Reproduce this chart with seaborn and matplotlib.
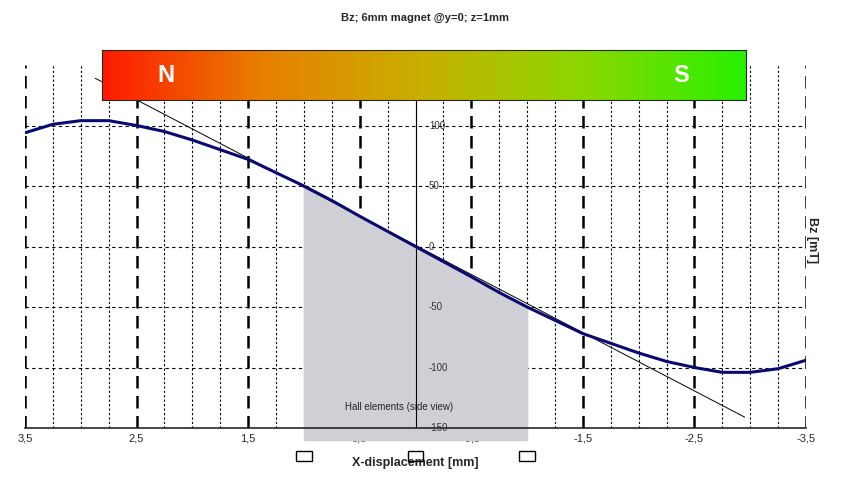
import numpy as np
import pandas as pd
import seaborn as sns
import matplotlib.pyplot as plt
from matplotlib.colors import LinearSegmentedColormap
from matplotlib.patches import Rectangle

# Bz curve (mT vs x-displacement mm)
x_pos = [3.5, 3.25, 3.0, 2.75, 2.5, 2.25, 2.0, 1.75, 1.5, 1.25, 1.0, 0.75, 0.5, 0.25, 0.0]
bz_pos = [94, 101, 104, 104, 100, 95, 88, 80, 72, 61, 50, 38, 25, 12.5, 0]
x_vals = x_pos + [-v for v in x_pos[-2::-1]]
bz_vals = bz_pos + [-v for v in bz_pos[-2::-1]]

tangent_x = [2.87, -2.95]
tangent_y = [139, -141]

hall_x = [1.0, 0.0, -1.0]
tick_vals = [3.5, 2.5, 1.5, 0.5, -0.5, -1.5, -2.5, -3.5]
tick_labels = ['3,5', '2,5', '1,5', '0,5', '-0,5', '-1,5', '-2,5', '-3,5']
y_ticks = [100, 50, 0, -50, -100, -150]

df = pd.DataFrame({'x': x_vals, 'bz': bz_vals})

sns.set_style('white')
plt.rcParams['font.family'] = ['Liberation Sans', 'DejaVu Sans']

fig = plt.figure(figsize=(8.5, 4.95), dpi=100)
ax = fig.add_axes([25/850, 1 - 428/495, 781/850, 363/495])
ax.set_xlim(3.5, -3.5)
ax.set_ylim(-150, 150)

# grid
for gx in np.arange(3.5, -3.51, -0.25):
    major = abs((gx - 0.5) % 1.0) < 1e-6
    ax.axvline(gx, color='black', lw=1.8 if major else 0.8,
               ls=(0, (5, 3)) if major else (0, (2, 2)), zorder=1)
for gy in [-100, -50, 0, 50, 100]:
    ax.axhline(gy, color='black', lw=0.8, ls=(0, (3, 3)), zorder=1)

# shaded region (Hall elements)
gx = np.array(df['x'])
gy = np.array(df['bz'])
m = (gx <= 1.0) & (gx >= -1.0)
ax.fill_between(gx[m], gy[m], -160, color='#d0cfd6', zorder=2, clip_on=False)
ax.text(0.15, -135, 'Hall elements (side view)', fontsize=7, ha='center', zorder=3)

ax.plot(tangent_x, tangent_y, color='black', lw=0.7, zorder=3)
sns.lineplot(data=df, x='x', y='bz', ax=ax, color='#0a0a6e', lw=2.2, zorder=4)

# y axis at x=0
ax.plot([0, 0], [-150, 120], color='black', lw=0.8, zorder=3)
for yt in y_ticks:
    ax.text(-0.12, yt, str(yt), fontsize=7, va='center', ha='left', color='#333333', zorder=5)

ax.set_xticks(tick_vals)
ax.set_xticklabels(tick_labels, fontsize=8)
ax.set_yticks([])
ax.tick_params(axis='x', length=0, pad=4)
ax.set_xlabel('X-displacement [mm]', fontsize=9, fontweight='bold', labelpad=10)
ax.set_ylabel('')
for s in ['top', 'left', 'right']:
    ax.spines[s].set_visible(False)
ax.spines['bottom'].set_linewidth(1.2)

for hx in hall_x:
    ax.add_patch(Rectangle((hx + 0.07, -177), -0.14, 8, fill=False, lw=1,
                           ec='black', clip_on=False))

fig.text(812/850, 1 - 240/495, 'Bz [mT]', rotation=270, fontsize=9,
         fontweight='bold', ha='center', va='center')
fig.text(425/850, 1 - 18/495, 'Bz; 6mm magnet @y=0; z=1mm', fontsize=8,
         fontweight='bold', ha='center', va='center')

# magnet banner
cmap = LinearSegmentedColormap.from_list('mag', ['#ff1a00', '#e88000', '#c8b000', '#8cd800', '#28f000'])
bax = fig.add_axes([102/850, 1 - 100/495, 644/850, 50/495])
bax.imshow(np.linspace(0, 1, 256)[None, :], aspect='auto', cmap=cmap, extent=[0, 1, 0, 1])
bax.text(0.1, 0.5, 'N', color='white', fontsize=17, fontweight='bold', ha='center', va='center')
bax.text(0.9, 0.5, 'S', color='white', fontsize=17, fontweight='bold', ha='center', va='center')
bax.set_xticks([])
bax.set_yticks([])
for s in bax.spines.values():
    s.set_linewidth(0.8)

fig.savefig('out.png', dpi=100)
